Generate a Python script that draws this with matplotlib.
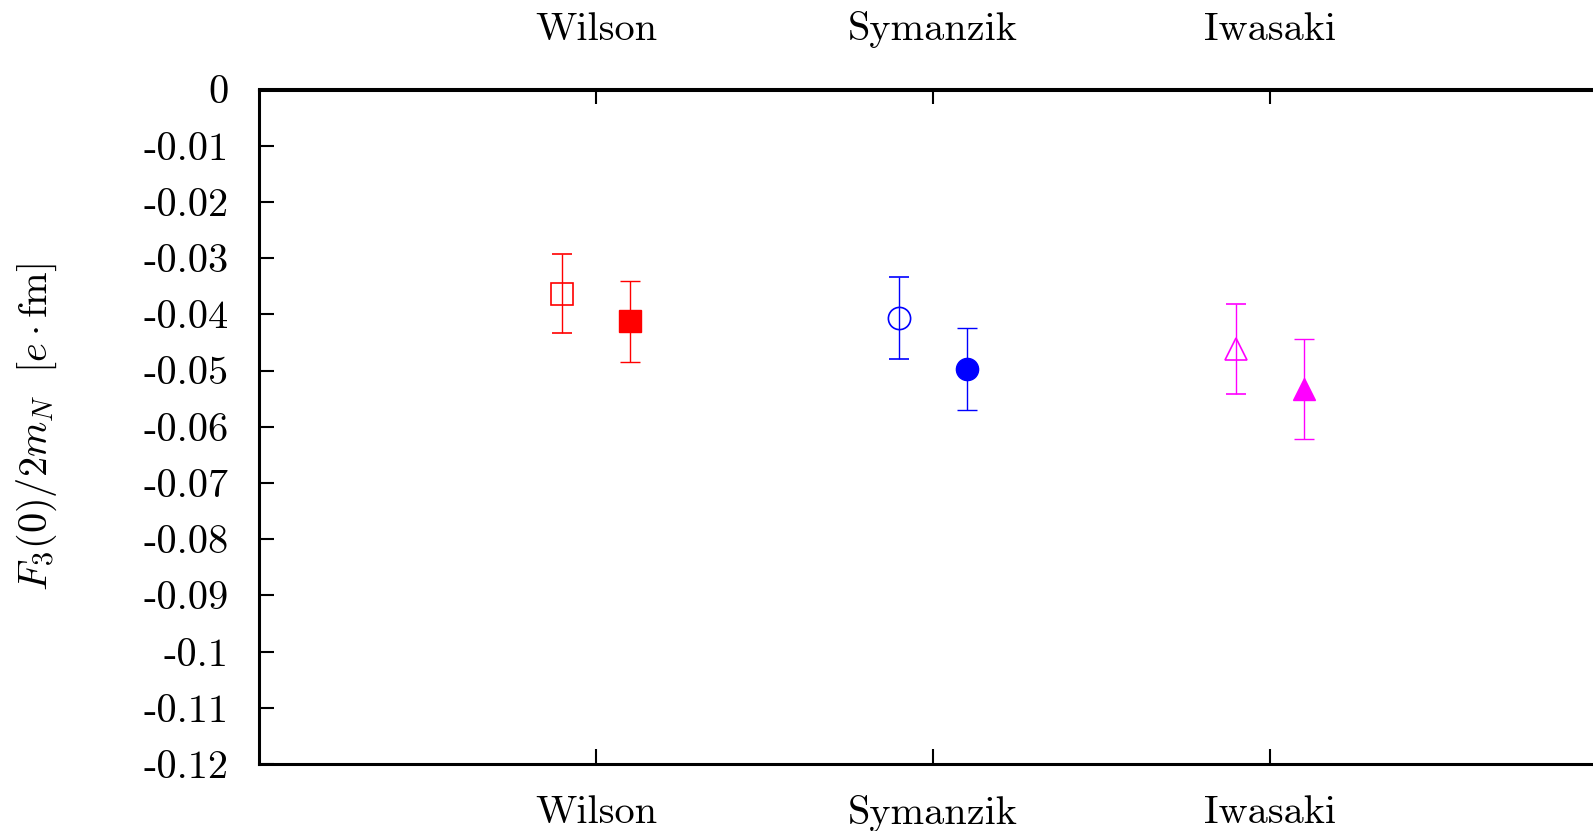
import matplotlib
matplotlib.use('Agg')
import matplotlib.pyplot as plt
import numpy as np

plt.rcParams['font.family'] = 'cmr10'
plt.rcParams['mathtext.fontset'] = 'cm'
plt.rcParams['font.size'] = 29

# data
actions = ['Wilson', 'Symanzik', 'Iwasaki']
open_val = [-0.0363, -0.0407, -0.0462]
open_err = [0.0071, 0.0073, 0.0080]
filled_val = [-0.0412, -0.0497, -0.0533]
filled_err = [0.0072, 0.0073, 0.0089]
colors = ['#ff0000', '#0000ff', '#ff00ff']
markers = ['s', 'o', '^']
yticks = [0, -0.01, -0.02, -0.03, -0.04, -0.05, -0.06, -0.07, -0.08, -0.09, -0.1, -0.11, -0.12]

fig = plt.figure(figsize=(15.93, 8.31), dpi=100)
# plot frame runs off the right edge of the picture like the original
ax = fig.add_axes([259 / 1593, 1 - 764 / 831, 1348 / 1593, (764 - 89.5) / 831])

xpos = np.arange(1, len(actions) + 1)
for i in range(len(actions)):
    ax.errorbar(xpos[i] - 0.1, open_val[i], yerr=open_err[i], fmt=markers[i],
                color=colors[i], mfc='none', mec=colors[i], mew=1.2, ms=16,
                elinewidth=1.0, capsize=7, capthick=1.0)
    ax.errorbar(xpos[i] + 0.1, filled_val[i], yerr=filled_err[i], fmt=markers[i],
                color=colors[i], mfc=colors[i], mec=colors[i], ms=16,
                elinewidth=1.0, capsize=7, capthick=1.0)

ax.set_xlim(0, 4)
ax.set_ylim(-0.12, 0)
ax.set_yticks(yticks)
ax.set_yticklabels(['0' if v == 0 else '%g' % v for v in yticks])
ax.set_xticks(xpos)
ax.set_xticklabels(actions)
ax.tick_params(axis='x', direction='in', length=11, width=1.5, pad=22.5)
ax.tick_params(axis='y', direction='in', length=11, width=1.5, right=False, pad=22)

top = ax.secondary_xaxis('top')
top.set_xticks(xpos)
top.set_xticklabels(actions)
top.tick_params(direction='in', length=11, width=1.5, pad=30)
top.spines['top'].set_linewidth(2.2)

for s in ax.spines.values():
    s.set_linewidth(2.2)
ax.spines['right'].set_visible(False)

ax.set_ylabel(r'$F_3(0)/2m_N\ \ [e\cdot\mathrm{fm}]$')
ax.yaxis.set_label_coords(-0.148, 0.5)

fig.savefig('out.png', dpi=100)
